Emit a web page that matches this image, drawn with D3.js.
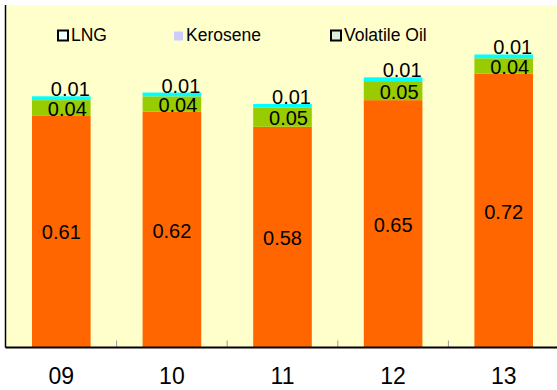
<!DOCTYPE html>
<html>
<head>
<meta charset="utf-8">
<script src="https://cdn.jsdelivr.net/npm/d3@7"></script>
<style>
  html, body { margin: 0; padding: 0; background: #ffffff; }
  svg { display: block; font-family: Arial, "Liberation Sans", sans-serif; }
</style>
</head>
<body>
<svg id="chart" width="557" height="390"></svg>
<script>
// Years on the category axis
const years = ["09", "10", "11", "12", "13"];

// Stacked series, bottom to top
const baseFuel    = [0.61, 0.62, 0.58, 0.65, 0.72];
const volatileOil = [0.04, 0.04, 0.05, 0.05, 0.04];
const kerosene    = [0, 0, 0, 0, 0];
const lng         = [0.01, 0.01, 0.01, 0.01, 0.01];

const legendNames = ["LNG", "Kerosene", "Volatile Oil"];

const svg = d3.select("#chart");
const W = 557, H = 390;
const plot = { left: 5.5, right: 559, top: 5, bottom: 347.5 };

// plot area background
svg.append("rect")
  .attr("x", plot.left).attr("y", plot.top)
  .attr("width", W - plot.left).attr("height", plot.bottom - plot.top)
  .attr("fill", "#FFFFCC");

const x = d3.scaleBand()
  .domain(years)
  .range([6, plot.right])
  .paddingInner(0.47)
  .paddingOuter(0.235);

const y = d3.scaleLinear()
  .domain([0, 0.9])
  .range([plot.bottom, plot.top]);

const rows = years.map((yr, i) => ({
  year: yr,
  baseFuel: baseFuel[i],
  volatileOil: volatileOil[i],
  kerosene: kerosene[i],
  lng: lng[i]
}));

const keys = ["baseFuel", "volatileOil", "kerosene", "lng"];
const colors = {
  baseFuel: "#FF6600",
  volatileOil: "#99CC00",
  kerosene: "#CCCCFF",
  lng: "#00FFFF"
};

const stacked = d3.stack().keys(keys)(rows);

svg.append("g").selectAll("g")
  .data(stacked)
  .join("g")
  .attr("fill", d => colors[d.key])
  .selectAll("rect")
  .data(d => d)
  .join("rect")
  .attr("x", d => x(d.data.year))
  .attr("width", x.bandwidth())
  .attr("y", d => y(d[1]))
  .attr("height", d => y(d[0]) - y(d[1]));

// value labels
const labels = svg.append("g")
  .attr("font-size", 20)
  .attr("fill", "#000");

const fmt = v => v.toFixed(2);
const step = x.step();

// base series: centred in its segment
labels.selectAll("text.base")
  .data(stacked[0])
  .join("text")
  .attr("class", "base")
  .attr("text-anchor", "middle")
  .attr("dominant-baseline", "central")
  .attr("x", d => x(d.data.year) + x.bandwidth() / 2)
  .attr("y", d => (y(d[0]) + y(d[1])) / 2 + 1)
  .text(d => fmt(d.data.baseFuel));

// volatile oil: centred vertically, nudged right
labels.selectAll("text.vo")
  .data(stacked[1])
  .join("text")
  .attr("class", "vo")
  .attr("text-anchor", "middle")
  .attr("dominant-baseline", "central")
  .attr("x", d => x(d.data.year) + x.bandwidth() / 2 + 6)
  .attr("y", d => (y(d[0]) + y(d[1])) / 2 + 1)
  .text(d => fmt(d.data.volatileOil));

// LNG: sits on top of the stack
labels.selectAll("text.lng")
  .data(stacked[3])
  .join("text")
  .attr("class", "lng")
  .attr("text-anchor", "middle")
  .attr("x", d => x(d.data.year) + x.bandwidth() / 2 + 9)
  .attr("y", d => y(d[1]))
  .text(d => fmt(d.data.lng));

// category axis
const xAxis = svg.append("g")
  .attr("transform", `translate(0,${plot.bottom})`)
  .call(d3.axisBottom(x).tickSize(0).tickPadding(20));
xAxis.select(".domain").remove();
xAxis.selectAll("text")
  .attr("font-size", 23)
  .attr("font-family", "Arial, 'Liberation Sans', sans-serif")
  .attr("fill", "#000");

// small gray separators between categories
svg.append("g").selectAll("line")
  .data(years.slice(1))
  .join("line")
  .attr("x1", d => x(d) - (step - x.bandwidth()) / 2)
  .attr("x2", d => x(d) - (step - x.bandwidth()) / 2)
  .attr("y1", plot.bottom - 7)
  .attr("y2", plot.bottom)
  .attr("stroke", "#999")
  .attr("stroke-width", 1);

// axis lines
svg.append("line")
  .attr("x1", plot.left).attr("x2", W)
  .attr("y1", plot.bottom).attr("y2", plot.bottom)
  .attr("stroke", "#000").attr("stroke-width", 2);
svg.append("line")
  .attr("x1", plot.left).attr("x2", plot.left)
  .attr("y1", plot.top).attr("y2", plot.bottom)
  .attr("stroke", "#000").attr("stroke-width", 1.5);

// legend
const legendItems = [
  { name: legendNames[0], x: 58, size: 10, fill: "#EFFFFF", stroke: "#000" },
  { name: legendNames[1], x: 174, size: 9, fill: "#CCCCFF", stroke: "none" },
  { name: legendNames[2], x: 331, size: 10, fill: "#DDEEDD", stroke: "#000" }
];
const legend = svg.append("g");
legendItems.forEach(it => {
  legend.append("rect")
    .attr("x", it.x).attr("y", 40.5 - it.size)
    .attr("width", it.size).attr("height", it.size)
    .attr("fill", it.fill)
    .attr("stroke", it.stroke)
    .attr("stroke-width", it.stroke === "none" ? 0 : 2);
  legend.append("text")
    .attr("x", it.x + it.size + 3)
    .attr("y", 40.8)
    .attr("font-size", 17.5)
    .attr("fill", "#000")
    .text(it.name);
});
</script>
</body>
</html>
